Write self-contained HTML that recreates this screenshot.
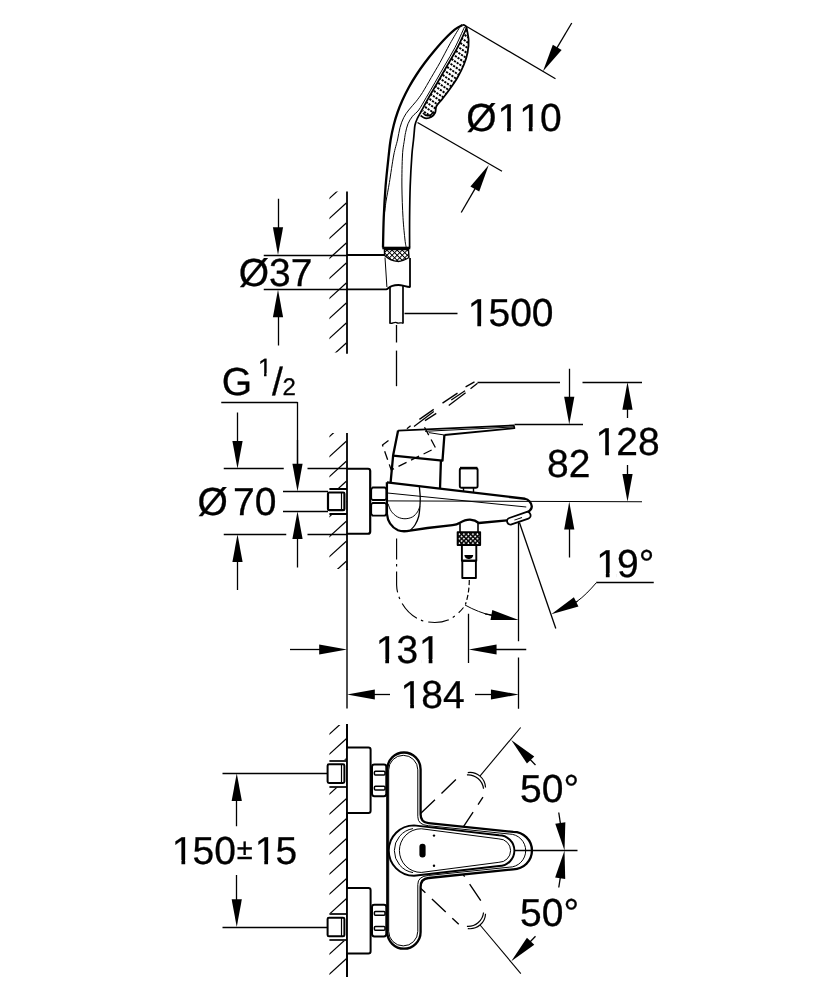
<!DOCTYPE html>
<html lang="en"><head><meta charset="utf-8"><title>Technical drawing</title>
<style>html,body{margin:0;padding:0;background:#fff}svg{display:block;filter:grayscale(1)}</style>
</head><body>
<svg width="833" height="1000" viewBox="0 0 833 1000">
<defs>
<clipPath id="cw1"><rect x="329.4" y="191.5" width="18" height="161"/></clipPath>
<clipPath id="cw2"><rect x="329.4" y="433" width="18" height="136"/></clipPath>
<clipPath id="cw3"><rect x="329.4" y="725" width="18" height="250"/></clipPath>
<pattern id="knurl" width="3.2" height="3.2" patternUnits="userSpaceOnUse" patternTransform="rotate(45)"><rect width="3.2" height="3.2" fill="#000"/><rect x="0.9" y="0.9" width="1.7" height="1.7" fill="#fff"/></pattern>
<pattern id="knurl2" width="3.6" height="3.6" patternUnits="userSpaceOnUse" patternTransform="rotate(45)"><rect width="3.6" height="3.6" fill="#fff"/><path d="M0,0H3.6M0,0V3.6" stroke="#000" stroke-width="1.9"/></pattern>
</defs>
<rect width="833" height="1000" fill="#fff"/>
<g fill="none" stroke="#000" stroke-linecap="butt" stroke-linejoin="round">
<line x1="347" y1="191.5" x2="347" y2="353.7" stroke-width="1.8" />
<g clip-path="url(#cw1)">
<line x1="346.3" y1="183" x2="328.5" y2="199.2" stroke-width="1.25" />
<line x1="346.3" y1="203" x2="328.5" y2="219.2" stroke-width="1.25" />
<line x1="346.3" y1="223" x2="328.5" y2="239.2" stroke-width="1.25" />
<line x1="346.3" y1="243" x2="328.5" y2="259.2" stroke-width="1.25" />
<line x1="346.3" y1="263" x2="328.5" y2="279.2" stroke-width="1.25" />
<line x1="346.3" y1="283" x2="328.5" y2="299.2" stroke-width="1.25" />
<line x1="346.3" y1="303" x2="328.5" y2="319.2" stroke-width="1.25" />
<line x1="346.3" y1="323" x2="328.5" y2="339.2" stroke-width="1.25" />
<line x1="346.3" y1="343" x2="328.5" y2="359.2" stroke-width="1.25" />
</g>
<line x1="346.9" y1="255" x2="384.4" y2="255" stroke-width="1.9" />
<path d="M346.9,289.4 L386.2,289.4 C388,289.4 389,286.6 391.5,286.2 C395,285 400,284.8 403,285.6 C406,286.4 408,287 410,287" stroke-width="1.9" />
<line x1="410" y1="258" x2="410" y2="287.4" stroke-width="1.8" />
<line x1="385" y1="257.5" x2="386.9" y2="287" stroke-width="1" />
<line x1="263.75" y1="255.5" x2="346.9" y2="255.5" stroke-width="1.3" />
<line x1="263.75" y1="289.5" x2="346.9" y2="289.5" stroke-width="1.3" />
<polygon points="278,255 272.9,227.2 283.1,227.2" fill="#000" stroke="none"/>
<line x1="278.5" y1="198.75" x2="278.5" y2="229.2" stroke-width="1.3" />
<polygon points="278,289.5 283.1,317.3 272.9,317.3" fill="#000" stroke="none"/>
<line x1="278.5" y1="345.5" x2="278.5" y2="315.3" stroke-width="1.3" />
<path d="M384.4,249.5 L408.5,249.5 L409,257.5 C404,260.5 400,261.6 397.5,261.4 C393,261.2 388,258.5 384.6,255.5 Z" stroke-width="1.4" fill="url(#knurl2)"/>
<line x1="382.3" y1="248" x2="410.3" y2="248" stroke-width="2.6" />
<line x1="390" y1="287" x2="390" y2="323.5" stroke-width="1.7" />
<line x1="403" y1="286" x2="403" y2="323.5" stroke-width="1.7" />
<path d="M389.6,323 C392,324.5 394,321.5 396.5,322.6 C399,324 401,322 403.2,323.2" stroke-width="1.3" />
<line x1="404.5" y1="313.5" x2="457.5" y2="313.5" stroke-width="1.3" />
<line x1="396.5" y1="325" x2="396.5" y2="342.5" stroke-width="1.3" />
<line x1="396.5" y1="350.6" x2="396.5" y2="386.2" stroke-width="1.3" />
<path d="M462.5,25 C461.25,25.73 457.92,27.11 455,29.4 C452.08,31.69 448.33,35.32 445,38.75 C441.67,42.18 438.33,46.04 435,50 C431.67,53.96 428.12,58.33 425,62.5 C421.88,66.67 418.96,70.83 416.25,75 C413.54,79.17 411.04,83.33 408.75,87.5 C406.46,91.67 404.38,95.83 402.5,100 C400.62,104.17 398.96,108.33 397.5,112.5 C396.04,116.67 394.9,120.42 393.75,125 C392.6,129.58 391.43,135 390.6,140 C389.77,145 389.58,147.33 388.75,155 C387.92,162.67 386.43,175.58 385.6,186 C384.77,196.42 384.18,207.25 383.75,217.5 C383.32,227.75 383.12,242.5 383,247.5" stroke-width="2.3" />
<path d="M462.5,25 C464.5,24.6 466.3,26 466.6,28.2" stroke-width="1.8" />
<path d="M459.5,27.5 C457.92,30.21 453.25,37.92 450,43.75 C446.75,49.58 443.12,56.88 440,62.5 C436.88,68.12 434.17,72.5 431.25,77.5 C428.33,82.5 425,88.54 422.5,92.5 C420,96.46 418.54,98.33 416.25,101.25 C413.96,104.17 410.83,107.29 408.75,110 C406.67,112.71 405.21,114.58 403.75,117.5 C402.29,120.42 401.04,123.75 400,127.5 C398.96,131.25 398.54,135.42 397.5,140 C396.46,144.58 395.1,147.92 393.75,155 C392.4,162.08 390.65,175 389.4,182.5 C388.15,190 387.05,195.08 386.25,200 C385.45,204.92 384.88,210 384.6,212" stroke-width="1" />
<path d="M464.5,27 C462.92,30.42 458.25,41.17 455,47.5 C451.75,53.83 448.33,59.17 445,65 C441.67,70.83 438.12,77.08 435,82.5 C431.88,87.92 428.96,92.92 426.25,97.5 C423.54,102.08 421.04,106.88 418.75,110 C416.46,113.12 414.29,113.96 412.5,116.25 C410.71,118.54 409.15,121.04 408,123.75 C406.85,126.46 406.2,129.79 405.6,132.5 C405,135.21 404.92,136.25 404.4,140 C403.88,143.75 402.92,147.33 402.5,155 C402.08,162.67 401.82,175.58 401.9,186 C401.98,196.42 402.48,208.5 403,217.5 C403.52,226.5 404.46,235 405,240 C405.54,245 406.04,246.25 406.25,247.5" stroke-width="1" />
<path d="M466.5,28 C465,31.25 460.67,41.33 457.5,47.5 C454.33,53.67 450.83,59.17 447.5,65 C444.17,70.83 440.62,77.08 437.5,82.5 C434.38,87.92 431.46,92.71 428.75,97.5 C426.04,102.29 423.18,107.71 421.25,111.25 C419.32,114.79 418.24,116.46 417.2,118.75 C416.16,121.04 415.5,122.71 415,125 C414.5,127.29 414.45,130 414.2,132.5 C413.95,135 413.88,136.25 413.5,140 C413.12,143.75 412.45,147.33 411.9,155 C411.35,162.67 410.58,175.58 410.2,186 C409.82,196.42 409.7,207.25 409.6,217.5 C409.5,227.75 409.6,242.5 409.6,247.5" stroke-width="1.7" />
<path d="M466.5,27.5 C466.85,29.58 468.42,35.83 468.6,40 C468.78,44.17 468.41,48.33 467.6,52.5 C466.79,56.67 465.43,60.83 463.75,65 C462.07,69.17 459.79,73.54 457.5,77.5 C455.21,81.46 452.5,85.21 450,88.75 C447.5,92.29 444.75,95.88 442.5,98.75 C440.25,101.62 437.72,103.71 436.5,106 C435.28,108.29 436.07,110.67 435.2,112.5 C434.32,114.33 432.95,116.05 431.25,117 C429.55,117.95 426.77,118.45 425,118.2 C423.23,117.95 421.33,115.95 420.6,115.5" stroke-width="1.8" />
<clipPath id="cface"><path d="M466.5,27.5 C466.85,29.58 468.42,35.83 468.6,40 C468.78,44.17 468.41,48.33 467.6,52.5 C466.79,56.67 465.43,60.83 463.75,65 C462.07,69.17 459.79,73.54 457.5,77.5 C455.21,81.46 452.5,85.21 450,88.75 C447.5,92.29 444.75,95.88 442.5,98.75 C440.25,101.62 437.72,103.71 436.5,106 C435.28,108.29 436.07,110.67 435.2,112.5 C434.32,114.33 432.95,116.05 431.25,117 C429.55,117.95 426.77,118.45 425,118.2 C423.23,117.95 421.33,115.95 420.6,115.5 L428.75,97.5 L437.5,82.5 L447.5,65 L457.5,47.5 Z"/></clipPath>
<g clip-path="url(#cface)" stroke-dasharray="2.2 1.0">
<line x1="465.5" y1="30" x2="479.5" y2="39.5" stroke-width="1.9" stroke-dashoffset="0"/>
<line x1="463.3" y1="34" x2="477.3" y2="43.5" stroke-width="1.9" stroke-dashoffset="1.6"/>
<line x1="461.1" y1="38" x2="475.1" y2="47.5" stroke-width="1.9" stroke-dashoffset="0"/>
<line x1="458.9" y1="42" x2="472.9" y2="51.5" stroke-width="1.9" stroke-dashoffset="1.6"/>
<line x1="456.7" y1="46" x2="470.7" y2="55.5" stroke-width="1.9" stroke-dashoffset="0"/>
<line x1="454.5" y1="50" x2="468.5" y2="59.5" stroke-width="1.9" stroke-dashoffset="1.6"/>
<line x1="452.3" y1="54" x2="466.3" y2="63.5" stroke-width="1.9" stroke-dashoffset="0"/>
<line x1="450.1" y1="58" x2="464.1" y2="67.5" stroke-width="1.9" stroke-dashoffset="1.6"/>
<line x1="447.9" y1="62" x2="461.9" y2="71.5" stroke-width="1.9" stroke-dashoffset="0"/>
<line x1="445.7" y1="66" x2="459.7" y2="75.5" stroke-width="1.9" stroke-dashoffset="1.6"/>
<line x1="443.5" y1="70" x2="457.5" y2="79.5" stroke-width="1.9" stroke-dashoffset="0"/>
<line x1="441.3" y1="74" x2="455.3" y2="83.5" stroke-width="1.9" stroke-dashoffset="1.6"/>
<line x1="439.1" y1="78" x2="453.1" y2="87.5" stroke-width="1.9" stroke-dashoffset="0"/>
<line x1="436.9" y1="82" x2="450.9" y2="91.5" stroke-width="1.9" stroke-dashoffset="1.6"/>
<line x1="434.7" y1="86" x2="448.7" y2="95.5" stroke-width="1.9" stroke-dashoffset="0"/>
<line x1="432.5" y1="90" x2="446.5" y2="99.5" stroke-width="1.9" stroke-dashoffset="1.6"/>
<line x1="430.3" y1="94" x2="444.3" y2="103.5" stroke-width="1.9" stroke-dashoffset="0"/>
<line x1="428.1" y1="98" x2="442.1" y2="107.5" stroke-width="1.9" stroke-dashoffset="1.6"/>
<line x1="425.9" y1="102" x2="439.9" y2="111.5" stroke-width="1.9" stroke-dashoffset="0"/>
<line x1="423.7" y1="106" x2="437.7" y2="115.5" stroke-width="1.9" stroke-dashoffset="1.6"/>
<line x1="421.5" y1="110" x2="435.5" y2="119.5" stroke-width="1.9" stroke-dashoffset="0"/>
</g>
<path d="M423,113 C426,117 431,116.5 433.5,111.5" stroke-width="1.6" />
<line x1="465" y1="25.5" x2="555.5" y2="78.75" stroke-width="1.3" />
<line x1="417.5" y1="122.5" x2="502" y2="171.25" stroke-width="1.3" />
<polygon points="543,71.25 552.85,44.76 561.61,49.98" fill="#000" stroke="none"/>
<line x1="571.75" y1="23" x2="556.21" y2="49.09" stroke-width="1.3" />
<polygon points="488.75,165 479.23,191.61 470.41,186.5" fill="#000" stroke="none"/>
<line x1="461.25" y1="212.5" x2="475.82" y2="187.33" stroke-width="1.3" />
<line x1="347" y1="433" x2="347" y2="570" stroke-width="1.8" />
<path d="M347,569 V708.5" stroke-width="1.4" />
<g clip-path="url(#cw2)">
<line x1="346.3" y1="421.25" x2="328.5" y2="437.45" stroke-width="1.25" />
<line x1="346.3" y1="441.25" x2="328.5" y2="457.45" stroke-width="1.25" />
<line x1="346.3" y1="461.25" x2="328.5" y2="477.45" stroke-width="1.25" />
<line x1="346.3" y1="481.25" x2="328.5" y2="497.45" stroke-width="1.25" />
<line x1="346.3" y1="501.25" x2="328.5" y2="517.45" stroke-width="1.25" />
<line x1="346.3" y1="521.25" x2="328.5" y2="537.45" stroke-width="1.25" />
<line x1="346.3" y1="541.25" x2="328.5" y2="557.45" stroke-width="1.25" />
<line x1="346.3" y1="561.25" x2="328.5" y2="577.45" stroke-width="1.25" />
</g>
<path d="M346.9,468.75 H368 Q370.2,468.75 370.2,471 V531.5 Q370.2,533.75 368,533.75 H346.9" stroke-width="2.2" />
<rect x="327" y="488" width="19" height="26.6" fill="#fff" stroke="none"/>
<rect x="328" y="492.5" width="16.4" height="17.6" rx="1.2" stroke-width="2.2" fill="#fff"/>
<line x1="341.5" y1="493" x2="341.5" y2="510" stroke-width="1.2" />
<line x1="329.4" y1="489" x2="346.9" y2="489" stroke-width="2" />
<line x1="329.4" y1="514" x2="346.9" y2="514" stroke-width="2" />
<path d="M372.5,487.5 H385 L386.4,489.5 V498.5 L385,500 H372.5 L371.2,498.5 V489.5 Z" stroke-width="1.8" />
<path d="M372.5,503 H385 L386.4,504.5 V513.8 L385,515.6 H372.5 L371.2,513.8 V504.5 Z" stroke-width="1.8" />
<line x1="223.75" y1="468.5" x2="283.75" y2="468.5" stroke-width="1.3" />
<line x1="307.5" y1="468.5" x2="346.9" y2="468.5" stroke-width="1.3" />
<line x1="223.75" y1="534.5" x2="286.25" y2="534.5" stroke-width="1.3" />
<line x1="307.5" y1="534.5" x2="346.9" y2="534.5" stroke-width="1.3" />
<polygon points="237.5,468.75 232.4,440.95 242.6,440.95" fill="#000" stroke="none"/>
<line x1="237.5" y1="412.5" x2="237.5" y2="442.95" stroke-width="1.3" />
<polygon points="237.5,534.3 242.6,562.1 232.4,562.1" fill="#000" stroke="none"/>
<line x1="237.5" y1="590" x2="237.5" y2="560.1" stroke-width="1.3" />
<line x1="221.25" y1="402.5" x2="297.5" y2="402.5" stroke-width="1.3" />
<line x1="297.5" y1="402" x2="297.5" y2="470" stroke-width="1.3" />
<polygon points="297.5,491.6 292.4,463.8 302.6,463.8" fill="#000" stroke="none"/>
<line x1="297.5" y1="440" x2="297.5" y2="465.8" stroke-width="1.3" />
<polygon points="297.5,511.3 302.6,539.1 292.4,539.1" fill="#000" stroke="none"/>
<line x1="297.5" y1="567.5" x2="297.5" y2="537.1" stroke-width="1.3" />
<line x1="283" y1="491.5" x2="328" y2="491.5" stroke-width="1.3" />
<line x1="283" y1="511.5" x2="328" y2="511.5" stroke-width="1.3" />
<path d="M386.9,482.3 L525,498.75 C528.5,499.5 531.5,503 531.8,506.3 C531.8,509 529.5,511.3 526.3,512.5" stroke-width="2.3" />
<path d="M386.9,482.3 V513.75 C387.5,520 391,527 398,530.2 C402,531.8 406,531.4 410,530.6 L427.5,528 L452.5,525.2 C456,524.8 458,524 459.5,523 C463,521 466.5,519.6 470,519.7 C474,520 477,521.5 478.8,523 L507,520.3" stroke-width="2.3" />
<g transform="rotate(-19 518.8 518.2)"><rect x="506.6" y="514.9" width="24.4" height="6.8" rx="3.3" stroke-width="1.8" fill="#fff"/><line x1="514" y1="518.6" x2="522" y2="518.6" stroke-width="1"/></g>
<line x1="387.5" y1="493" x2="526.25" y2="507" stroke-width="1" />
<line x1="386.9" y1="500.9" x2="642" y2="501.75" stroke-width="1" />
<path d="M419.4,487 C419.53,488.67 420.1,494 420.2,497 C420.3,500 420.24,501.79 420,505 C419.76,508.21 419.58,512.92 418.75,516.25 C417.92,519.58 416.46,522.61 415,525 C413.54,527.39 410.83,529.67 410,530.6" stroke-width="1.3" />
<path d="M388,503.75 C388.54,505 389.67,509.06 391.25,511.25 C392.83,513.44 395.21,515.65 397.5,516.9 C399.79,518.15 402.5,518.75 405,518.75 C407.5,518.75 410.42,518.04 412.5,516.9 C414.58,515.76 416.28,513.63 417.5,511.9 C418.72,510.17 419.42,507.4 419.8,506.5" stroke-width="1" />
<line x1="393.1" y1="455.6" x2="390.6" y2="482.6" stroke-width="2.3" />
<line x1="440.9" y1="460.6" x2="440" y2="489" stroke-width="2.3" />
<path d="M398.1,430.6 L393.1,455.6 L442.5,460.6 L444.4,435" stroke-width="2.3" />
<path d="M398.1,430.6 L513.75,425.4 L514.4,428.2 L444.4,435" stroke-width="1.8" />
<line x1="425" y1="431.3" x2="513" y2="427" stroke-width="1" />
<line x1="428.75" y1="432.6" x2="444.4" y2="435" stroke-width="1" />
<line x1="406.9" y1="428.75" x2="410.6" y2="425.8" stroke-width="1.3" />
<line x1="419.4" y1="419.4" x2="433.75" y2="409.4" stroke-width="1.3" />
<line x1="442.5" y1="403.1" x2="457.5" y2="393.1" stroke-width="1.3" />
<line x1="465.6" y1="386.9" x2="474.5" y2="381.9" stroke-width="1.3" />
<line x1="425" y1="420.6" x2="436.25" y2="413.4" stroke-width="1.3" />
<line x1="448.75" y1="405.4" x2="465.6" y2="392.8" stroke-width="1.3" />
<line x1="470.5" y1="388.8" x2="477.5" y2="383.3" stroke-width="1.3" />
<line x1="414" y1="426.6" x2="433.75" y2="411.6" stroke-width="1.3" />
<line x1="451.25" y1="400" x2="465" y2="390.8" stroke-width="1.3" />
<path d="M388.5,440.6 L382.5,445 L391.25,470 L435.6,448 L424.4,427" stroke-width="1.3" stroke-dasharray="9 5"/>
<rect x="459.8" y="468.2" width="17.8" height="19.6" rx="1.8" stroke-width="1.9"/>
<line x1="460" y1="468" x2="477.4" y2="468" stroke-width="2.4" />
<line x1="463.5" y1="488" x2="463.5" y2="491.5" stroke-width="1.4" />
<line x1="473.5" y1="488" x2="473.5" y2="492.5" stroke-width="1.4" />
<line x1="460" y1="523.5" x2="460" y2="532" stroke-width="1.6" />
<line x1="478" y1="522.5" x2="478" y2="532" stroke-width="1.6" />
<rect x="457.6" y="532.1" width="22.6" height="13" stroke-width="1.8" fill="url(#knurl)"/>
<rect x="461.9" y="545" width="14.4" height="15.8" stroke-width="1.9"/>
<path d="M464.4,555 H473.2 C473,558 470.5,559 468.8,559 C467,559 464.6,558 464.4,555 Z" fill="#000" stroke="none"/>
<rect x="462.3" y="560.8" width="13.6" height="17.2" stroke-width="1.9"/>
<path d="M469.3,580 C469.2,589 468,597 465.4,604.5" stroke-width="1.2" stroke-dasharray="5 2.5"/>
<path d="M465,605 C474,610 483,613.5 492,615.5" stroke-width="1" />
<polygon points="518.75,620 490.49,619.99 492.33,609.96" fill="#000" stroke="none"/>
<line x1="485" y1="613.8" x2="493.37" y2="615.34" stroke-width="1.3" />
<path d="M396.6,538.5 V585 C397,600 408,617 425,621.5 C433,623 441,623 448,620 C454,617.5 460,612 463.5,607.5" stroke-width="1.15" stroke-dasharray="21 4.5 2.5 5"/>
<line x1="477.5" y1="382.5" x2="560" y2="382.5" stroke-width="1.3" />
<line x1="582.5" y1="382.5" x2="642" y2="382.5" stroke-width="1.3" />
<line x1="514.5" y1="424.5" x2="583" y2="424.5" stroke-width="1.3" />
<polygon points="569.25,424.6 564.15,396.8 574.35,396.8" fill="#000" stroke="none"/>
<line x1="569.5" y1="368.75" x2="569.5" y2="398.8" stroke-width="1.3" />
<polygon points="569.25,501.75 574.35,529.55 564.15,529.55" fill="#000" stroke="none"/>
<line x1="569.5" y1="557.5" x2="569.5" y2="527.55" stroke-width="1.3" />
<polygon points="627.5,382 632.6,409.8 622.4,409.8" fill="#000" stroke="none"/>
<line x1="627.5" y1="418" x2="627.5" y2="407.8" stroke-width="1.3" />
<polygon points="627.5,501.75 622.4,473.95 632.6,473.95" fill="#000" stroke="none"/>
<line x1="627.5" y1="465" x2="627.5" y2="475.95" stroke-width="1.3" />
<line x1="518.5" y1="522.5" x2="518.5" y2="641.25" stroke-width="1.3" />
<line x1="518.5" y1="657.5" x2="518.5" y2="708.75" stroke-width="1.3" />
<line x1="519.4" y1="522.5" x2="555.8" y2="628.5" stroke-width="1.3" />
<line x1="596.25" y1="582.5" x2="653.75" y2="582.5" stroke-width="1.5" />
<path d="M596.25,582.8 C590,590 584,596.5 576.5,601.8" stroke-width="1" />
<polygon points="551.25,614.25 573.9,597.34 578.43,606.48" fill="#000" stroke="none"/>
<line x1="577.5" y1="601.25" x2="574.37" y2="602.8" stroke-width="1.3" />
<polygon points="347,649.5 319.2,654.6 319.2,644.4" fill="#000" stroke="none"/>
<line x1="290" y1="649.5" x2="321.2" y2="649.5" stroke-width="1.3" />
<polygon points="468.75,649.5 496.55,644.4 496.55,654.6" fill="#000" stroke="none"/>
<line x1="526.25" y1="649.5" x2="494.55" y2="649.5" stroke-width="1.3" />
<line x1="468.5" y1="613.75" x2="468.5" y2="663" stroke-width="1.3" />
<polygon points="347,694.5 374.8,689.4 374.8,699.6" fill="#000" stroke="none"/>
<line x1="390" y1="694.5" x2="372.8" y2="694.5" stroke-width="1.3" />
<polygon points="518.75,694.5 490.95,699.6 490.95,689.4" fill="#000" stroke="none"/>
<line x1="475" y1="694.5" x2="492.95" y2="694.5" stroke-width="1.3" />
<line x1="347" y1="724" x2="347" y2="977" stroke-width="1.8" />
<g clip-path="url(#cw3)">
<line x1="346.3" y1="718.75" x2="328.5" y2="734.95" stroke-width="1.25" />
<line x1="346.3" y1="738.75" x2="328.5" y2="754.95" stroke-width="1.25" />
<line x1="346.3" y1="758.75" x2="328.5" y2="774.95" stroke-width="1.25" />
<line x1="346.3" y1="778.75" x2="328.5" y2="794.95" stroke-width="1.25" />
<line x1="346.3" y1="798.75" x2="328.5" y2="814.95" stroke-width="1.25" />
<line x1="346.3" y1="818.75" x2="328.5" y2="834.95" stroke-width="1.25" />
<line x1="346.3" y1="838.75" x2="328.5" y2="854.95" stroke-width="1.25" />
<line x1="346.3" y1="858.75" x2="328.5" y2="874.95" stroke-width="1.25" />
<line x1="346.3" y1="878.75" x2="328.5" y2="894.95" stroke-width="1.25" />
<line x1="346.3" y1="898.75" x2="328.5" y2="914.95" stroke-width="1.25" />
<line x1="346.3" y1="918.75" x2="328.5" y2="934.95" stroke-width="1.25" />
<line x1="346.3" y1="938.75" x2="328.5" y2="954.95" stroke-width="1.25" />
<line x1="346.3" y1="958.75" x2="328.5" y2="974.95" stroke-width="1.25" />
<line x1="346.3" y1="978.75" x2="328.5" y2="994.95" stroke-width="1.25" />
</g>
<path d="M346.9,747.5 H368.4 Q370.6,747.5 370.6,749.7 V810.8 Q370.6,813 368.4,813 H346.9" stroke-width="2" fill="#fff"/>
<path d="M346.9,888 H368.4 Q370.6,888 370.6,890.2 V951.3 Q370.6,953.5 368.4,953.5 H346.9" stroke-width="2" fill="#fff"/>
<rect x="327" y="759.8" width="19" height="27.6" fill="#fff" stroke="none"/>
<rect x="327.6" y="764.3" width="16.8" height="18.6" rx="1.4" stroke-width="2" fill="#fff"/>
<line x1="341.5" y1="764.6" x2="341.5" y2="782.6" stroke-width="1.2" />
<line x1="329.4" y1="761" x2="346.9" y2="761" stroke-width="1.7" />
<line x1="329.4" y1="787" x2="346.9" y2="787" stroke-width="1.7" />
<rect x="327" y="913.2" width="19" height="27.6" fill="#fff" stroke="none"/>
<rect x="327.6" y="917.7" width="16.8" height="18.6" rx="1.4" stroke-width="2" fill="#fff"/>
<line x1="341.5" y1="918" x2="341.5" y2="936" stroke-width="1.2" />
<line x1="329.4" y1="914" x2="346.9" y2="914" stroke-width="1.7" />
<line x1="329.4" y1="940" x2="346.9" y2="940" stroke-width="1.7" />
<rect x="372" y="764.4" width="14.3" height="31.8" rx="2.4" stroke-width="2.0" fill="#fff"/>
<rect x="374.4" y="771.2" width="10.6" height="3.8" rx="1" stroke-width="1.5"/>
<rect x="374.4" y="786.2" width="10.6" height="3.8" rx="1" stroke-width="1.5"/>
<rect x="372" y="904.7" width="14.3" height="31.8" rx="2.4" stroke-width="2.0" fill="#fff"/>
<rect x="374.4" y="911.5" width="10.6" height="3.8" rx="1" stroke-width="1.5"/>
<rect x="374.4" y="926.5" width="10.6" height="3.8" rx="1" stroke-width="1.5"/>
<line x1="347" y1="724" x2="347" y2="977" stroke-width="1.8" />
<line x1="222.5" y1="773.5" x2="327.5" y2="773.5" stroke-width="1.3" />
<line x1="222.5" y1="927.5" x2="327.5" y2="927.5" stroke-width="1.3" />
<polygon points="236.75,773.25 241.85,801.05 231.65,801.05" fill="#000" stroke="none"/>
<line x1="236.5" y1="826.25" x2="236.5" y2="799.05" stroke-width="1.3" />
<polygon points="236.75,927 231.65,899.2 241.85,899.2" fill="#000" stroke="none"/>
<line x1="236.5" y1="875" x2="236.5" y2="901.2" stroke-width="1.3" />
<g transform="rotate(-50 417.5 850.6)">
<line x1="425" y1="826.6" x2="500.5" y2="834.8" stroke-width="1.35" stroke-dasharray="20 9" stroke-dashoffset="6"/>
<line x1="440" y1="873.4" x2="500.5" y2="866.4" stroke-width="1.35" stroke-dasharray="19 9" stroke-dashoffset="4"/>
<path d="M509.54,839.01 A15.60,15.60 0 0 1 509.54,862.19" stroke-width="1.2" />
<path d="M507.32,839.76 A15.60,15.60 0 0 1 507.32,861.44" stroke-width="1.2" />
<line x1="514.7" y1="850.5" x2="578.1" y2="850.5" stroke-width="1.1" />
</g>
<g transform="rotate(50 417.5 850.6)">
<line x1="425" y1="826.6" x2="500.5" y2="834.8" stroke-width="1.35" stroke-dasharray="20 9" stroke-dashoffset="6"/>
<line x1="440" y1="873.4" x2="500.5" y2="866.4" stroke-width="1.35" stroke-dasharray="19 9" stroke-dashoffset="4"/>
<path d="M509.54,839.01 A15.60,15.60 0 0 1 509.54,862.19" stroke-width="1.2" />
<path d="M507.32,839.76 A15.60,15.60 0 0 1 507.32,861.44" stroke-width="1.2" />
<line x1="514.7" y1="850.5" x2="578.1" y2="850.5" stroke-width="1.1" />
</g>
<path d="M387.3,850.6 V769.15 A16.65,16.65 0 0 1 420.6,769.15 V814.2 Q420.6,822.4 428.5,823.2 L513.3,831.9 A18.7,18.7 0 0 1 513.3,869.3 L428.5,878 Q420.6,878.8 420.6,887 V932.05 A16.65,16.65 0 0 1 387.3,932.05 V850.6" stroke-width="2.3" fill="#fff"/>
<path d="M388.7,850.6 V769.85 A14.55,14.55 0 0 1 417.8,769.85 V816.72 Q417.8,824.92 428.5,825.72 L509.1,834 A16.6,16.6 0 0 1 509.1,867.2 L428.5,875.48 Q417.8,876.28 417.8,884.48 V931.35 A14.55,14.55 0 0 1 388.7,931.35 V850.6" stroke-width="1" />
<path d="M388.75,850.6 A25.2,25.2 0 0 1 413.95,825.4 L499,835.2 A15.4,15.4 0 0 1 499,866 L413.95,875.8 A25.2,25.2 0 0 1 388.75,850.6 Z" stroke-width="1.9" fill="#fff"/>
<path d="M413,828.6 A22.3,22.3 0 0 0 413,872.6" stroke-width="1" />
<path d="M399.4,850.6 A21.85,21.85 0 0 1 421.25,828.75 L498.9,838.9 A11.7,11.7 0 0 1 498.9,862.3 L421.25,872.45 A21.85,21.85 0 0 1 399.4,850.6 Z" stroke-width="1" fill="none"/>
<rect x="419.4" y="843.8" width="6.2" height="13.8" rx="3" fill="#000" stroke="none"/>
<circle cx="434" cy="835.6" r="1.2" fill="#000" stroke="none"/>
<circle cx="434" cy="865.8" r="1.2" fill="#000" stroke="none"/>
<line x1="514.4" y1="850.5" x2="577.5" y2="850.5" stroke-width="1.3" />
<polygon points="564.5,850.6 555.28,823.67 565.36,822.15" fill="#000" stroke="none"/>
<line x1="558.75" y1="812.5" x2="560.62" y2="824.89" stroke-width="1.3" />
<polygon points="564.5,850.6 565.23,879.05 555.15,877.48" fill="#000" stroke="none"/>
<line x1="558.75" y1="887.5" x2="560.5" y2="876.29" stroke-width="1.3" />
<polygon points="511.25,740 534.27,756.4 526.95,763.51" fill="#000" stroke="none"/>
<line x1="535.5" y1="765" x2="529.21" y2="758.52" stroke-width="1.3" />
<polygon points="511.25,961.25 526.95,937.74 534.27,944.85" fill="#000" stroke="none"/>
<line x1="535.5" y1="936.25" x2="529.21" y2="942.73" stroke-width="1.3" />
</g>
<g font-family="'Liberation Sans', Arial, sans-serif" fill="#000" stroke="#000" stroke-width="0.3" style="font-kerning:none;font-variant-ligatures:none;text-rendering:geometricPrecision">
<text x="466.15" y="131.1" font-size="39" dx="0 0.94 0 -0.94" >Ø110</text>
<text x="238.65" y="286" font-size="39" >Ø37</text>
<text x="466.75" y="326.4" font-size="39" dx="0.94 -0.94 0 0" >1500</text>
<text><tspan x="221.8" y="395.2" font-size="39">G</tspan><tspan x="257.3" y="376" font-size="25" dx="0.6">1</tspan><tspan x="272" y="395.2" font-size="39">/</tspan><tspan x="282.5" y="395.4" font-size="24">2</tspan></text>
<text><tspan x="197.4" y="514.9" font-size="39">Ø</tspan><tspan x="233" y="514.9" font-size="39">70</tspan></text>
<text x="547.05" y="476.9" font-size="39" >82</text>
<text x="594.6" y="455.2" font-size="39" dx="0.94 -0.94 0" >128</text>
<text x="595.25" y="576.5" font-size="39" dx="0.94 -0.94 0" >19°</text>
<text x="374.7" y="663.1" font-size="39" dx="0.94 -0.94 0.94" >131</text>
<text x="399.6" y="707.9" font-size="39" dx="0.94 -0.94 0" >184</text>
<text x="520.1" y="802.1" font-size="39" >50°</text>
<text x="520.1" y="925.5" font-size="39" >50°</text>
<text><tspan x="170.85" y="864.1" font-size="39" dx="0.94 -0.94 0">150</tspan><tspan x="236.7" y="859.3" font-size="29">±</tspan><tspan x="253.7" y="864.1" font-size="39" dx="0.94 -0.94">15</tspan></text>
</g>
<g fill="#fff" stroke="none"><rect x="499.59" y="127" width="7.49" height="6"/><rect x="510.82" y="127" width="7.18" height="6"/><rect x="521.28" y="127" width="7.49" height="6"/><rect x="532.51" y="127" width="7.18" height="6"/><rect x="469.86" y="323" width="7.49" height="5"/><rect x="481.09" y="323" width="7.18" height="5"/><rect x="259" y="373" width="5.03" height="5"/><rect x="266.55" y="373" width="4.84" height="5"/><rect x="597.71" y="452" width="7.49" height="5"/><rect x="608.94" y="452" width="7.18" height="5"/><rect x="598.36" y="573" width="7.49" height="5"/><rect x="609.59" y="573" width="7.18" height="5"/><rect x="377.81" y="659" width="7.49" height="6"/><rect x="389.04" y="659" width="7.18" height="6"/><rect x="421.19" y="659" width="7.49" height="6"/><rect x="432.42" y="659" width="7.18" height="6"/><rect x="402.71" y="704" width="7.49" height="6"/><rect x="413.94" y="704" width="7.18" height="6"/><rect x="173.96" y="860" width="7.49" height="6"/><rect x="185.19" y="860" width="7.18" height="6"/><rect x="256.81" y="860" width="7.49" height="6"/><rect x="268.04" y="860" width="7.18" height="6"/></g>
</svg>
</body></html>
